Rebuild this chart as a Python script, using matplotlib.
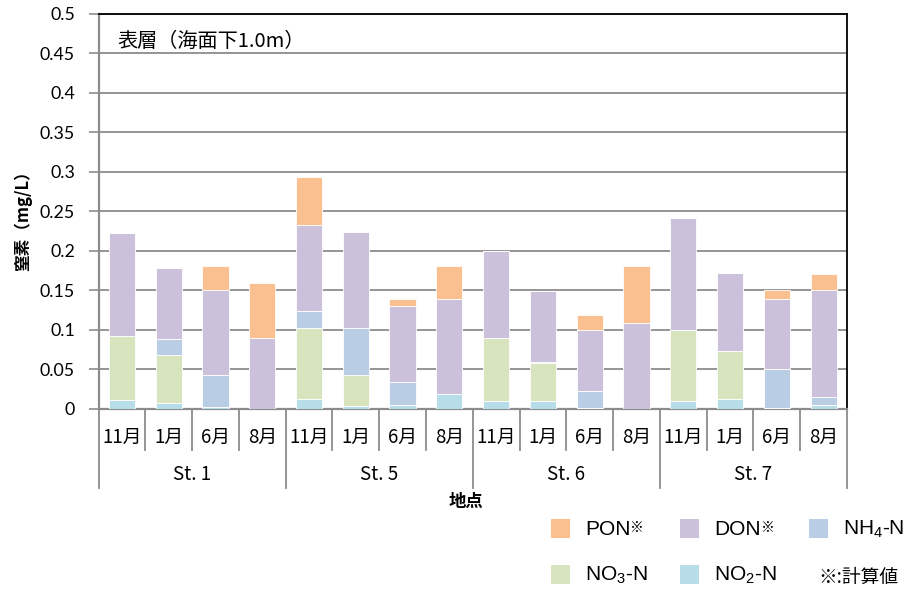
import matplotlib
matplotlib.use("Agg")
import matplotlib.pyplot as plt
import matplotlib.transforms as mtransforms
from matplotlib.patches import Rectangle
import numpy as np

plt.rcParams['font.family'] = ['Noto Sans CJK JP', 'DejaVu Sans']
plt.rcParams['mathtext.fontset'] = 'custom'
plt.rcParams['mathtext.rm'] = 'Liberation Sans'
plt.rcParams['mathtext.it'] = 'Liberation Sans'

# ---- data ----
stations = ["St. 1", "St. 5", "St. 6", "St. 7"]
months = ["11月", "1月", "6月", "8月"]
series_names = ["NO2-N", "NO3-N", "NH4-N", "DON", "PON"]
no2 = [0.011, 0.007, 0.002, 0.0, 0.012, 0.003, 0.004, 0.018,
       0.009, 0.009, 0.001, 0.0, 0.009, 0.012, 0.001, 0.005]
no3 = [0.081, 0.061, 0.0, 0.0, 0.090, 0.039, 0.0, 0.0,
       0.080, 0.049, 0.0, 0.0, 0.090, 0.061, 0.0, 0.0]
nh4 = [0.0, 0.020, 0.040, 0.0, 0.021, 0.060, 0.029, 0.0,
       0.0, 0.001, 0.021, 0.0, 0.0, 0.0, 0.049, 0.009]
don = [0.130, 0.090, 0.108, 0.089, 0.110, 0.122, 0.097, 0.121,
       0.111, 0.090, 0.078, 0.108, 0.142, 0.099, 0.089, 0.136]
pon = [0.0, 0.0, 0.030, 0.070, 0.061, 0.0, 0.009, 0.041,
       0.0, 0.0, 0.019, 0.072, 0.0, 0.0, 0.011, 0.021]
yticks = [0, 0.05, 0.1, 0.15, 0.2, 0.25, 0.3, 0.35, 0.4, 0.45, 0.5]
ytick_labels = ["0", "0.05", "0.1", "0.15", "0.2", "0.25", "0.3", "0.35", "0.4", "0.45", "0.5"]

colors = {"PON": "#FAC090", "DON": "#CCC1DA", "NH4-N": "#B9CDE5",
          "NO3-N": "#D7E4BD", "NO2-N": "#B7DEE8"}

W, H = 916, 593
fig = plt.figure(figsize=(W / 100, H / 100), dpi=100)
L, R, T, B = 98.5, 847, 14, 408.5
ax = fig.add_axes([L / W, 1 - B / H, (R - L) / W, (B - T) / H])

x = np.arange(len(no2))
bottom = np.zeros(len(x))
for name, vals in zip(series_names, [no2, no3, nh4, don, pon]):
    v = np.array(vals)
    ax.bar(x, v, width=0.56, bottom=bottom, color=colors[name],
           edgecolor="white", linewidth=0.6, zorder=3)
    bottom += v

ax.set_xlim(-0.5, len(x) - 0.5)
ax.set_ylim(0, 0.5)
ax.set_yticks(yticks)
ax.set_yticklabels(ytick_labels, family=['Lato', 'Noto Sans CJK JP'], fontsize=12.8)
ax.yaxis.grid(True, color="#8C8C8C", linewidth=1.3, zorder=1)
ax.tick_params(axis='y', length=7, width=1.2, color="#8C8C8C", pad=10)
ax.set_xticks(x)
ax.set_xticklabels([])
ax.tick_params(axis='x', length=0)
for s in ["left", "bottom"]:
    ax.spines[s].set_color("#8C8C8C")
    ax.spines[s].set_linewidth(1.6)
for s in ["top", "right"]:
    ax.spines[s].set_color("#000000")
    ax.spines[s].set_linewidth(1.3)

trans = mtransforms.blended_transform_factory(ax.transData, ax.transAxes)
h = B - T
month_sep = -(450 - B) / h
group_sep = -(488 - B) / h
month_y = -(437 - B) / h
st_y = -(475 - B) / h
for i in range(len(x) + 1):
    xe = i - 0.5
    y1 = group_sep if i % 4 == 0 else month_sep
    ax.plot([xe, xe], [0, y1], color="#8C8C8C", lw=1.3, transform=trans, clip_on=False)
for i in range(len(x)):
    ax.text(i, month_y, months[i % 4], transform=trans, ha="center", va="center",
            fontsize=13.5)
for j, st in enumerate(stations):
    ax.text(4 * j + 1.5, st_y, st, transform=trans, ha="center", va="center",
            fontsize=13.5)

fig.text(466 / W, 1 - 502 / H, "地点", ha="center", va="center", fontsize=12.5,
         fontweight="bold")
fig.text(23 / W, 1 - 217 / H, "窒素（mg/L）", ha="center", va="center", fontsize=12,
         rotation=90, fontweight="bold")
fig.text(117 / W, 1 - 41 / H, "表層（海面下1.0m）", ha="left", va="center", fontsize=14.5)

# ---- legend ----
leg_items = [
    ("PON", "PON", True, 551, 528.5),
    ("DON", "DON", True, 680, 528.5),
    ("NH4-N", r"NH$_4$-N", False, 809, 528.5),
    ("NO3-N", r"NO$_3$-N", False, 551, 574.5),
    ("NO2-N", r"NO$_2$-N", False, 680, 574.5),
]
for key, label, star, px, py in leg_items:
    fig.add_artist(Rectangle((px / W, 1 - (py + 9.5) / H), 19 / W, 19 / H,
                             transform=fig.transFigure, color=colors[key], lw=0))
    t = fig.text((px + 34) / W, 1 - (py + 1) / H, label, ha="left", va="center",
                 fontsize=15, family=['Liberation Sans', 'Noto Sans CJK JP'])
    if star:
        fig.add_artist(plt.Annotation("※", xy=(1, 1), xycoords=t, xytext=(0, -1),
                                      textcoords="offset points", ha="left", va="top",
                                      fontsize=10))
fig.text(818 / W, 1 - 577 / H, "※:計算値", ha="left", va="center", fontsize=13.5)

fig.savefig("out.png", dpi=100)
